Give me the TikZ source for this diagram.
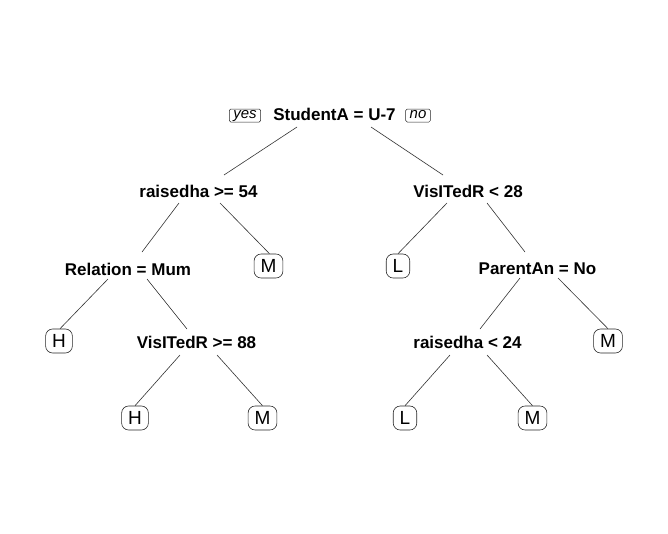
\documentclass[tikz,border=0pt]{standalone}
\usepackage{fontspec}
\setmainfont{Liberation Sans}
\begin{document}
\begin{tikzpicture}[x=1pt,y=-1pt,
  split/.style={font=\fontsize{17}{17}\selectfont\bfseries, inner sep=0pt, anchor=base},
  leaf/.style={draw=black!85, line width=0.6pt, rounded corners=7pt, font=\fontsize{19}{19}\selectfont,
     inner xsep=6.5pt, inner ysep=0pt, text height=13.6pt, text depth=0pt, minimum height=24pt},
  yn/.style={draw=black!85, line width=0.5pt, rounded corners=1.5pt, font=\fontsize{15}{15}\selectfont\itshape,
     inner xsep=4pt, inner ysep=0pt, text height=9pt, text depth=3pt, minimum height=13pt},
  edge/.style={draw=black!80, line width=0.6pt}]
\useasboundingbox (0,0) rectangle (668,533);
% split nodes
\node[split] (root) at (334.5,120) {StudentA = U-7};
\node[split] (n2) at (198.5,197) {raisedha >= 54};
\node[split] (n3) at (468,197) {VisITedR < 28};
\node[split] (n4) at (128,275) {Relation = Mum};
\node[split] (n7) at (537.5,274) {ParentAn = No};
\node[split] (n9) at (196.5,348) {VisITedR >= 88};
\node[split] (n10) at (467.5,348) {raisedha < 24};
% yes / no
\node[yn] (yes) at (245,115.5) {yes};
\node[yn] (no) at (418,115.5) {no};
% leaves
\node[leaf] (l5) at (268.5,266) {M};
\node[leaf] (l6) at (398,266) {L};
\node[leaf] (l8) at (59,341) {H};
\node[leaf] (l11) at (608,341) {M};
\node[leaf] (l12) at (135,418) {H};
\node[leaf] (l13) at (262.5,418) {M};
\node[leaf] (l14) at (405,418) {L};
\node[leaf] (l15) at (532.5,418) {M};
% edges
\draw[edge] ([shift={(-37.5,7)}]root.base) -- ([shift={(25.5,-22)}]n2.base);
\draw[edge] ([shift={(36.5,7)}]root.base) -- ([shift={(-25,-22)}]n3.base);
\draw[edge] ([shift={(-19.5,6)}]n2.base) -- ([shift={(14,-23)}]n4.base);
\draw[edge] ([shift={(21.5,6)}]n2.base) -- ([xshift=1pt]l5.north);
\draw[edge] ([shift={(-21,6)}]n3.base) -- (l6.north);
\draw[edge] ([shift={(19,6)}]n3.base) -- ([shift={(-12.5,-22)}]n7.base);
\draw[edge] ([shift={(-20,4)}]n4.base) -- ([xshift=1pt]l8.north);
\draw[edge] ([shift={(19,4)}]n4.base) -- ([shift={(-9.5,-19)}]n9.base);
\draw[edge] ([shift={(-17.5,4)}]n7.base) -- ([shift={(12.5,-19)}]n10.base);
\draw[edge] ([shift={(20.5,4)}]n7.base) -- (l11.north);
\draw[edge] ([shift={(-16.5,7)}]n9.base) -- (l12.north);
\draw[edge] ([shift={(20.5,7)}]n9.base) -- (l13.north);
\draw[edge] ([shift={(-17.5,7)}]n10.base) -- (l14.north);
\draw[edge] ([shift={(19.5,7)}]n10.base) -- (l15.north);
\end{tikzpicture}
\end{document}
